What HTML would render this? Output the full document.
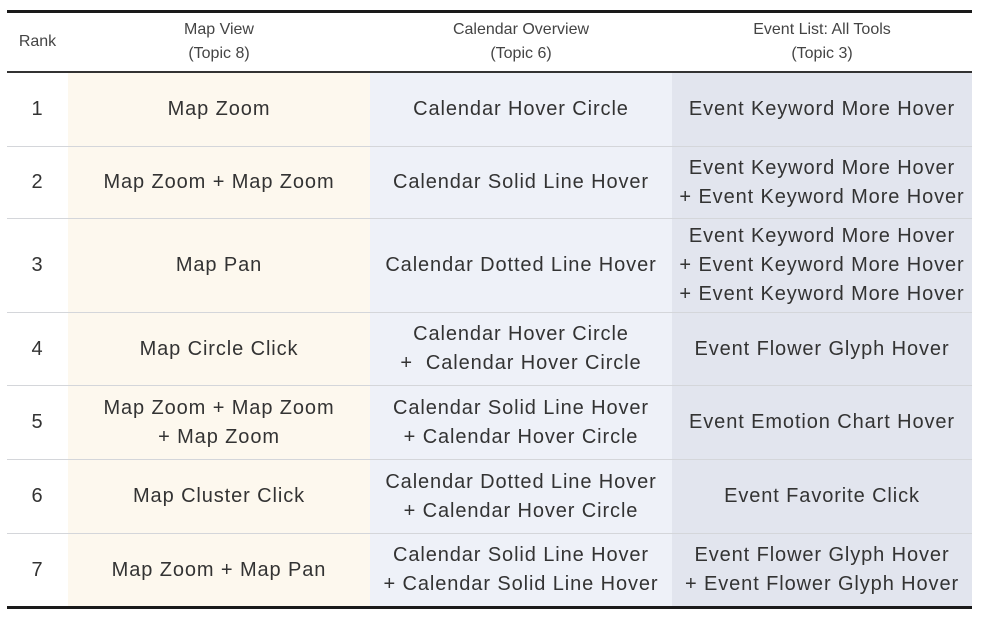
<!DOCTYPE html>
<html><head><style>
body{margin:0;width:990px;height:621px;background:#fff;position:relative;overflow:hidden;font-family:"Liberation Sans",sans-serif;color:#333}
.bg{position:absolute;top:73px;height:534px}
.c{position:absolute;display:flex;align-items:center;justify-content:center;text-align:center;font-size:20px;letter-spacing:0.9px;line-height:29px;white-space:nowrap}
.h{font-size:16px;letter-spacing:0px;line-height:24px;color:#444}
.l{position:absolute;left:7px;width:965px;background:#d4d6da;height:1px}
.t{position:absolute;left:7px;width:965px;background:#1a1a1a}
</style></head><body>
<div class="bg" style="left:68px;width:302px;background:#fdf8ee"></div>
<div class="bg" style="left:370px;width:302px;background:#eef1f8"></div>
<div class="bg" style="left:672px;width:300px;background:#e2e5ee"></div>
<div class="t" style="top:10px;height:3px"></div>
<div class="t" style="top:71px;height:2px;background:#333"></div>
<div class="t" style="top:606px;height:3px"></div>
<div class="l" style="top:146px"></div>
<div class="l" style="top:218px"></div>
<div class="l" style="top:312px"></div>
<div class="l" style="top:385px"></div>
<div class="l" style="top:459px"></div>
<div class="l" style="top:533px"></div>

<div class="c h" style="left:7px;width:61px;top:13px;height:58px">Rank</div>
<div class="c h" style="left:68px;width:302px;top:13px;height:58px">Map View<br>(Topic 8)</div>
<div class="c h" style="left:370px;width:302px;top:13px;height:58px">Calendar Overview<br>(Topic 6)</div>
<div class="c h" style="left:672px;width:300px;top:13px;height:58px">Event List: All Tools<br>(Topic 3)</div>

<div class="c" style="left:7px;width:61px;top:73px;height:73px">1</div>
<div class="c" style="left:68px;width:302px;top:73px;height:73px">Map Zoom</div>
<div class="c" style="left:370px;width:302px;top:73px;height:73px">Calendar Hover Circle</div>
<div class="c" style="left:672px;width:300px;top:73px;height:73px">Event Keyword More Hover</div>

<div class="c" style="left:7px;width:61px;top:147px;height:71px">2</div>
<div class="c" style="left:68px;width:302px;top:147px;height:71px">Map Zoom + Map Zoom</div>
<div class="c" style="left:370px;width:302px;top:147px;height:71px">Calendar Solid Line Hover</div>
<div class="c" style="left:672px;width:300px;top:147px;height:71px">Event Keyword More Hover<br>+ Event Keyword More Hover</div>

<div class="c" style="left:7px;width:61px;top:219px;height:93px">3</div>
<div class="c" style="left:68px;width:302px;top:219px;height:93px">Map Pan</div>
<div class="c" style="left:370px;width:302px;top:219px;height:93px">Calendar Dotted Line Hover</div>
<div class="c" style="left:672px;width:300px;top:219px;height:93px">Event Keyword More Hover<br>+ Event Keyword More Hover<br>+ Event Keyword More Hover</div>

<div class="c" style="left:7px;width:61px;top:313px;height:72px">4</div>
<div class="c" style="left:68px;width:302px;top:313px;height:72px">Map Circle Click</div>
<div class="c" style="left:370px;width:302px;top:313px;height:72px">Calendar Hover Circle<br>+&nbsp; Calendar Hover Circle</div>
<div class="c" style="left:672px;width:300px;top:313px;height:72px">Event Flower Glyph Hover</div>

<div class="c" style="left:7px;width:61px;top:386px;height:73px">5</div>
<div class="c" style="left:68px;width:302px;top:386px;height:73px">Map Zoom + Map Zoom<br>+ Map Zoom</div>
<div class="c" style="left:370px;width:302px;top:386px;height:73px">Calendar Solid Line Hover<br>+ Calendar Hover Circle</div>
<div class="c" style="left:672px;width:300px;top:386px;height:73px">Event Emotion Chart Hover</div>

<div class="c" style="left:7px;width:61px;top:460px;height:73px">6</div>
<div class="c" style="left:68px;width:302px;top:460px;height:73px">Map Cluster Click</div>
<div class="c" style="left:370px;width:302px;top:460px;height:73px">Calendar Dotted Line Hover<br>+ Calendar Hover Circle</div>
<div class="c" style="left:672px;width:300px;top:460px;height:73px">Event Favorite Click</div>

<div class="c" style="left:7px;width:61px;top:534px;height:72px">7</div>
<div class="c" style="left:68px;width:302px;top:534px;height:72px">Map Zoom + Map Pan</div>
<div class="c" style="left:370px;width:302px;top:534px;height:72px">Calendar Solid Line Hover<br>+ Calendar Solid Line Hover</div>
<div class="c" style="left:672px;width:300px;top:534px;height:72px">Event Flower Glyph Hover<br>+ Event Flower Glyph Hover</div>
</body></html>
